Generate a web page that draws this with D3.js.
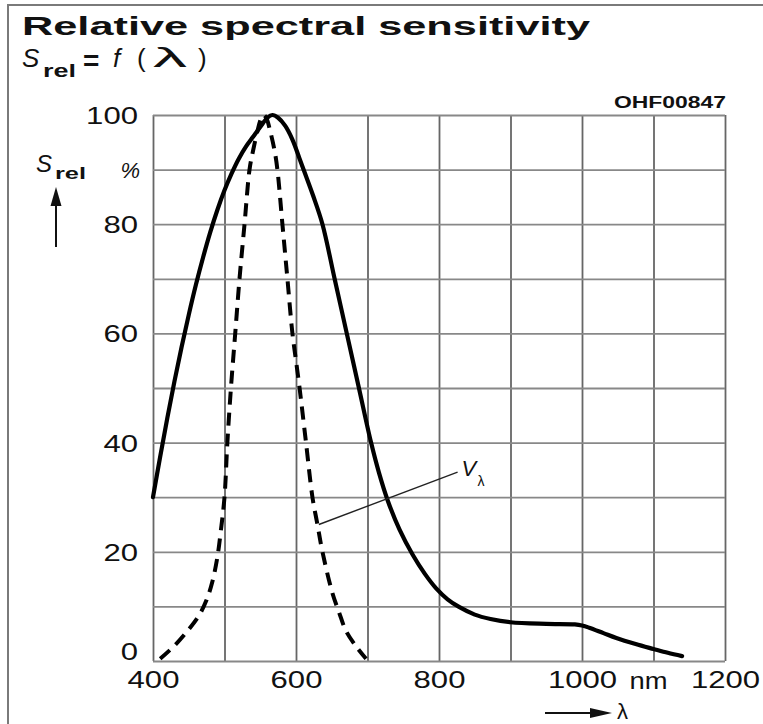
<!DOCTYPE html>
<html>
<head>
<meta charset="utf-8">
<script src="https://cdn.jsdelivr.net/npm/d3@7"></script>
<style>
  body { margin: 0; background: #fff; }
  svg { display: block; }
  text { font-family: "Liberation Sans", Arial, sans-serif; fill: #111; }
</style>
</head>
<body>
<div id="chart"></div>
<script>
// 光电二极管相对光谱灵敏度 (实线)
const diodeNm  = [400, 410, 420, 430, 440, 450, 460, 470, 480, 490, 500, 510, 520, 530, 540, 550, 560, 567, 575, 585, 595, 605, 612, 624, 637, 654, 671, 688, 705, 716, 728, 745, 763, 780, 796, 812, 828, 850, 872, 900, 950, 990, 1000, 1010, 1030, 1048, 1075, 1100, 1120, 1140];
const diodeRel = [30, 37.4, 44.5, 51.2, 57.5, 63.4, 68.9, 73.9, 78.5, 82.6, 86.2, 89.3, 92, 94.2, 96, 97.8, 99.5, 100, 99.5, 98, 95.5, 92, 89.5, 85.2, 80, 70, 60, 50, 40, 34.5, 29.5, 24, 19.5, 16, 13.3, 11.3, 9.9, 8.5, 7.7, 7.1, 6.8, 6.7, 6.5, 6.1, 5.1, 4.2, 3.1, 2.2, 1.5, 0.9];

// 人眼灵敏度曲线 V(λ) (虚线)
const eyeNm  = [410, 430, 450, 465, 475, 483, 490, 495, 500, 504, 509, 515, 521, 528, 535, 540, 546, 551, 555, 559, 564, 570, 574, 581, 588, 595, 600, 605, 614, 623, 630, 637, 651, 660, 670, 685, 698];
const eyeRel = [0.4, 2.8, 5.8, 8.5, 11.2, 14.5, 19, 24, 30, 40, 50, 60, 70, 80, 90, 93.5, 97, 99.3, 100, 99.3, 97, 93.5, 90, 80, 70, 60, 55, 50, 40, 30, 25, 20, 12.4, 9, 5.5, 2.5, 0.4];

// 网格与刻度
const xGrid = [400, 500, 600, 700, 800, 900, 1000, 1100, 1200];
const yGrid = [0, 10, 20, 30, 40, 50, 60, 70, 80, 90, 100];
const xTickLabels = [400, 600, 800, 1000, 1200];
const yTickLabels = [0, 20, 40, 60, 80, 100];

// V(λ) 标注引线: 起点在曲线上, 终点在文字旁
const leaderFrom = [632, 25];
const leaderTo = [826, 34.6];

const width = 763, height = 724;
const svg = d3.select("#chart").append("svg")
    .attr("width", width)
    .attr("height", height);

const x = d3.scaleLinear().domain([400, 1200]).range([153, 725]);
const y = d3.scaleLinear().domain([0, 100]).range([661, 115]);

// 外框 (左侧和顶部)
svg.append("path")
    .attr("d", "M8,724V5H763")
    .attr("fill", "none")
    .attr("stroke", "#7a7a7a")
    .attr("stroke-width", 2);

// 标题
svg.append("text")
    .attr("x", 22).attr("y", 35)
    .attr("font-size", 26).attr("font-weight", "bold")
    .attr("textLength", 568).attr("lengthAdjust", "spacingAndGlyphs")
    .text("Relative spectral sensitivity");

// 副标题 S_rel = f (λ)
const sub = svg.append("text").attr("font-size", 26);
sub.append("tspan").attr("x", 22).attr("y", 67).attr("font-style", "italic").text("S");
sub.append("tspan").attr("x", 43).attr("y", 77).attr("font-size", 19).attr("font-weight", "bold")
    .attr("textLength", 33).attr("lengthAdjust", "spacingAndGlyphs").text("rel");
sub.append("tspan").attr("x", 83).attr("y", 70).attr("font-weight", "bold").attr("font-size", 28).text("=");
sub.append("tspan").attr("x", 113).attr("y", 67).attr("font-style", "italic").text("f");
sub.append("tspan").attr("x", 137).attr("y", 67).text("(");
sub.append("tspan").attr("x", 153).attr("y", 67).attr("font-size", 28)
    .attr("textLength", 34).attr("lengthAdjust", "spacingAndGlyphs").text("λ");
sub.append("tspan").attr("x", 198).attr("y", 67).text(")");

// 图号
svg.append("text")
    .attr("x", 726).attr("y", 108)
    .attr("text-anchor", "end")
    .attr("font-size", 16).attr("font-weight", "bold")
    .attr("fill", "#333")
    .attr("textLength", 112).attr("lengthAdjust", "spacingAndGlyphs")
    .text("OHF00847");

// 竖向网格
svg.append("g")
    .attr("transform", `translate(0,${y(0)})`)
    .call(d3.axisBottom(x).tickValues(xGrid).tickSize(-(y(0) - y(100))).tickFormat(""))
    .call(g => g.select(".domain").remove())
    .call(g => g.selectAll("line").attr("stroke", "#666").attr("stroke-width", 1.8));

// 横向网格
svg.append("g")
    .attr("transform", `translate(${x(400)},0)`)
    .call(d3.axisLeft(y).tickValues(yGrid).tickSize(-(x(1200) - x(400))).tickFormat(""))
    .call(g => g.select(".domain").remove())
    .call(g => g.selectAll("line").attr("stroke", "#888").attr("stroke-width", 1.8));

// 把文字拉宽到参考图的宽度
const fitDigits = (sel, per) => sel
    .attr("textLength", function () { return this.textContent.length * per; })
    .attr("lengthAdjust", "spacingAndGlyphs");

// x 轴刻度文字
svg.append("g")
    .attr("transform", `translate(0,${y(0)})`)
    .call(d3.axisBottom(x).tickValues(xTickLabels).tickSize(0).tickPadding(10).tickFormat(d3.format("d")))
    .call(g => g.select(".domain").remove())
    .call(g => g.selectAll("text")
        .attr("font-size", 24).attr("fill", "#111")
        .attr("font-family", "Liberation Sans, Arial, sans-serif")
        .call(fitDigits, 17.3));

// y 轴刻度文字
svg.append("g")
    .attr("transform", `translate(${x(400)},0)`)
    .call(d3.axisLeft(y).tickValues(yTickLabels).tickSize(0).tickPadding(15).tickFormat(d3.format("d")))
    .call(g => g.select(".domain").remove())
    .call(g => g.selectAll("text")
        .attr("font-size", 24).attr("fill", "#111")
        .attr("font-family", "Liberation Sans, Arial, sans-serif")
        .attr("dy", d => d === 0 ? "-0.05em" : "0.35em")
        .call(fitDigits, 17.3));

// 单位
svg.append("text")
    .attr("x", (x(1000) + x(1200)) / 2 - 5).attr("y", y(0) + 28)
    .attr("text-anchor", "middle").attr("font-size", 24)
    .attr("textLength", 38).attr("lengthAdjust", "spacingAndGlyphs")
    .text("nm");
svg.append("text")
    .attr("x", 140).attr("y", y(90) + 8)
    .attr("text-anchor", "end").attr("font-size", 22).attr("font-style", "italic")
    .text("%");

// y 轴名称和箭头
const ylab = svg.append("text").attr("font-size", 24);
ylab.append("tspan").attr("x", 36).attr("y", 172).attr("font-style", "italic").text("S");
ylab.append("tspan").attr("x", 55).attr("y", 179).attr("font-size", 16).attr("font-weight", "bold")
    .attr("textLength", 31).attr("lengthAdjust", "spacingAndGlyphs").text("rel");
svg.append("line")
    .attr("x1", 56).attr("y1", 247).attr("x2", 56).attr("y2", 200)
    .attr("stroke", "#111").attr("stroke-width", 2);
svg.append("path")
    .attr("d", "M56,187L50.5,206L61.5,206Z")
    .attr("fill", "#111");

// x 轴名称和箭头
svg.append("line")
    .attr("x1", 545).attr("y1", 713).attr("x2", 595).attr("y2", 713)
    .attr("stroke", "#111").attr("stroke-width", 2);
svg.append("path")
    .attr("d", "M612,713L590,708L590,718Z")
    .attr("fill", "#111");
svg.append("text")
    .attr("x", 617).attr("y", 719).attr("font-size", 22)
    .text("λ");

// 曲线
const diode = diodeNm.map((d, i) => [d, diodeRel[i]]);
const eye = eyeNm.map((d, i) => [d, eyeRel[i]]);
const line = d3.line()
    .x(d => x(d[0]))
    .y(d => y(d[1]))
    .curve(d3.curveCatmullRom.alpha(0.5));

svg.append("path")
    .datum(eye)
    .attr("d", line)
    .attr("fill", "none")
    .attr("stroke", "#000")
    .attr("stroke-width", 4)
    .attr("stroke-dasharray", "13,8");

svg.append("path")
    .datum(diode)
    .attr("d", line)
    .attr("fill", "none")
    .attr("stroke", "#000")
    .attr("stroke-width", 4.2)
    .attr("stroke-linecap", "round");

// V(λ) 标注
svg.append("line")
    .attr("x1", x(leaderFrom[0])).attr("y1", y(leaderFrom[1]))
    .attr("x2", x(leaderTo[0])).attr("y2", y(leaderTo[1]))
    .attr("stroke", "#222").attr("stroke-width", 1.4);
const vlab = svg.append("text").attr("font-size", 22);
vlab.append("tspan").attr("x", x(leaderTo[0]) + 4).attr("y", y(leaderTo[1]) + 4).attr("font-style", "italic").text("V");
vlab.append("tspan").attr("x", x(leaderTo[0]) + 20).attr("y", y(leaderTo[1]) + 14).attr("font-size", 14).text("λ");
</script>
</body>
</html>
